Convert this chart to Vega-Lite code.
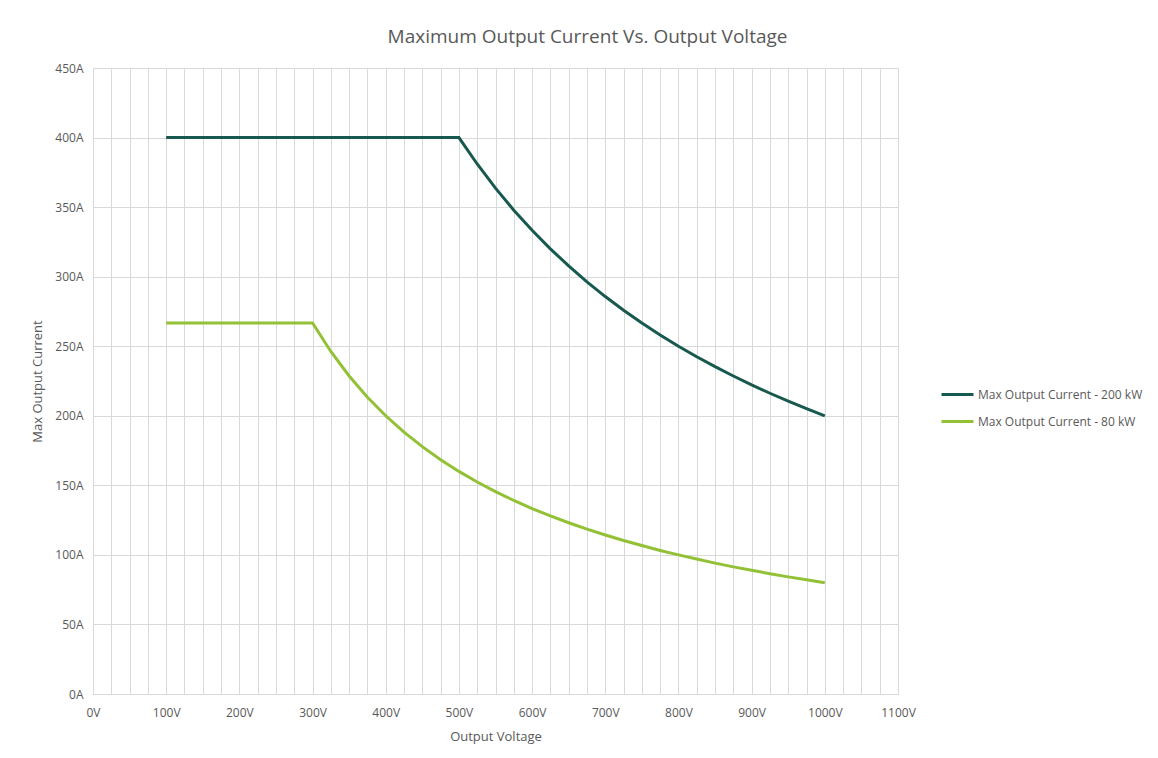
{
  "$schema": "https://vega.github.io/schema/vega-lite/v6.json",
  "width": 805,
  "height": 626,
  "autosize": {"type": "none"},
  "padding": {"left": 93, "top": 68, "right": 260, "bottom": 64},
  "background": "white",
  "title": {
    "text": "Maximum Output Current Vs. Output Voltage",
    "fontSize": 19,
    "font": "Open Sans",
    "fontWeight": "normal",
    "color": "#595959",
    "anchor": "middle",
    "frame": "group",
    "dx": 92,
    "offset": 15
  },
  "config": {
    "view": {"stroke": null},
    "font": "Open Sans",
    "axis": {"labelFont": "Open Sans", "titleFont": "Open Sans", "labelColor": "#595959", "titleColor": "#595959", "labelFontSize": 12, "titleFontSize": 13, "titleFontWeight": "normal", "gridColor": "#d9d9d9", "gridWidth": 1, "domainColor": "#d9d9d9", "ticks": false}
  },
  "data": {
    "values": [
      {"v": 100, "a": 400, "s": "Max Output Current - 200 kW"},
      {"v": 200, "a": 400, "s": "Max Output Current - 200 kW"},
      {"v": 300, "a": 400, "s": "Max Output Current - 200 kW"},
      {"v": 400, "a": 400, "s": "Max Output Current - 200 kW"},
      {"v": 500, "a": 400, "s": "Max Output Current - 200 kW"},
      {"v": 525, "a": 381, "s": "Max Output Current - 200 kW"},
      {"v": 550, "a": 363.6, "s": "Max Output Current - 200 kW"},
      {"v": 575, "a": 347.8, "s": "Max Output Current - 200 kW"},
      {"v": 600, "a": 333.3, "s": "Max Output Current - 200 kW"},
      {"v": 625, "a": 320, "s": "Max Output Current - 200 kW"},
      {"v": 650, "a": 307.7, "s": "Max Output Current - 200 kW"},
      {"v": 675, "a": 296.3, "s": "Max Output Current - 200 kW"},
      {"v": 700, "a": 285.7, "s": "Max Output Current - 200 kW"},
      {"v": 725, "a": 275.9, "s": "Max Output Current - 200 kW"},
      {"v": 750, "a": 266.7, "s": "Max Output Current - 200 kW"},
      {"v": 775, "a": 258.1, "s": "Max Output Current - 200 kW"},
      {"v": 800, "a": 250, "s": "Max Output Current - 200 kW"},
      {"v": 825, "a": 242.4, "s": "Max Output Current - 200 kW"},
      {"v": 850, "a": 235.3, "s": "Max Output Current - 200 kW"},
      {"v": 875, "a": 228.6, "s": "Max Output Current - 200 kW"},
      {"v": 900, "a": 222.2, "s": "Max Output Current - 200 kW"},
      {"v": 925, "a": 216.2, "s": "Max Output Current - 200 kW"},
      {"v": 950, "a": 210.5, "s": "Max Output Current - 200 kW"},
      {"v": 975, "a": 205.1, "s": "Max Output Current - 200 kW"},
      {"v": 1000, "a": 200, "s": "Max Output Current - 200 kW"},
      {"v": 100, "a": 266.7, "s": "Max Output Current - 80 kW"},
      {"v": 200, "a": 266.7, "s": "Max Output Current - 80 kW"},
      {"v": 300, "a": 266.7, "s": "Max Output Current - 80 kW"},
      {"v": 325, "a": 246.2, "s": "Max Output Current - 80 kW"},
      {"v": 350, "a": 228.6, "s": "Max Output Current - 80 kW"},
      {"v": 375, "a": 213.3, "s": "Max Output Current - 80 kW"},
      {"v": 400, "a": 200, "s": "Max Output Current - 80 kW"},
      {"v": 425, "a": 188.2, "s": "Max Output Current - 80 kW"},
      {"v": 450, "a": 177.8, "s": "Max Output Current - 80 kW"},
      {"v": 475, "a": 168.4, "s": "Max Output Current - 80 kW"},
      {"v": 500, "a": 160, "s": "Max Output Current - 80 kW"},
      {"v": 525, "a": 152.4, "s": "Max Output Current - 80 kW"},
      {"v": 550, "a": 145.5, "s": "Max Output Current - 80 kW"},
      {"v": 575, "a": 139.1, "s": "Max Output Current - 80 kW"},
      {"v": 600, "a": 133.3, "s": "Max Output Current - 80 kW"},
      {"v": 625, "a": 128, "s": "Max Output Current - 80 kW"},
      {"v": 650, "a": 123.1, "s": "Max Output Current - 80 kW"},
      {"v": 675, "a": 118.5, "s": "Max Output Current - 80 kW"},
      {"v": 700, "a": 114.3, "s": "Max Output Current - 80 kW"},
      {"v": 725, "a": 110.3, "s": "Max Output Current - 80 kW"},
      {"v": 750, "a": 106.7, "s": "Max Output Current - 80 kW"},
      {"v": 775, "a": 103.2, "s": "Max Output Current - 80 kW"},
      {"v": 800, "a": 100, "s": "Max Output Current - 80 kW"},
      {"v": 825, "a": 97, "s": "Max Output Current - 80 kW"},
      {"v": 850, "a": 94.1, "s": "Max Output Current - 80 kW"},
      {"v": 875, "a": 91.4, "s": "Max Output Current - 80 kW"},
      {"v": 900, "a": 88.9, "s": "Max Output Current - 80 kW"},
      {"v": 925, "a": 86.5, "s": "Max Output Current - 80 kW"},
      {"v": 950, "a": 84.2, "s": "Max Output Current - 80 kW"},
      {"v": 975, "a": 82.1, "s": "Max Output Current - 80 kW"},
      {"v": 1000, "a": 80, "s": "Max Output Current - 80 kW"}
    ]
  },
  "mark": {"type": "line", "strokeWidth": 3, "strokeCap": "butt"},
  "encoding": {
    "x": {
      "field": "v", "type": "quantitative",
      "scale": {"domain": [0, 1100], "nice": false},
      "axis": {
        "title": "Output Voltage",
        "values": [0,25,50,75,100,125,150,175,200,225,250,275,300,325,350,375,400,425,450,475,500,525,550,575,600,625,650,675,700,725,750,775,800,825,850,875,900,925,950,975,1000,1025,1050,1075,1100],
        "labelExpr": "datum.value % 100 === 0 ? datum.value + 'V' : ''",
        "labelPadding": 13,
        "titlePadding": 12,
        "labelFlush": false
      }
    },
    "y": {
      "field": "a", "type": "quantitative",
      "scale": {"domain": [0, 450], "nice": false},
      "axis": {
        "title": "Max Output Current",
        "values": [0,50,100,150,200,250,300,350,400,450],
        "labelExpr": "datum.value + 'A'",
        "labelPadding": 10,
        "titlePadding": 10
      }
    },
    "color": {
      "field": "s", "type": "nominal",
      "scale": {"domain": ["Max Output Current - 200 kW", "Max Output Current - 80 kW"], "range": ["#17594f", "#92c135"]},
      "legend": {
        "title": null,
        "orient": "none",
        "legendX": 847,
        "legendY": 309,
        "symbolType": "stroke",
        "symbolStrokeWidth": 3,
        "symbolSize": 1024,
        "labelFontSize": 12,
        "labelColor": "#595959",
        "labelFont": "Open Sans",
        "labelLimit": 0,
        "rowPadding": 3,
        "labelOffset": 3
      }
    }
  }
}
